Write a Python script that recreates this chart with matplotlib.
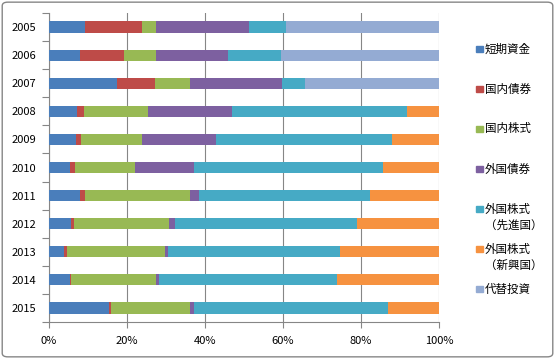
import numpy as np
import matplotlib
matplotlib.use("Agg")
import matplotlib.pyplot as plt
from matplotlib.patches import FancyBboxPatch, Rectangle

plt.rcParams['font.family'] = ['Noto Sans CJK JP', 'DejaVu Sans']

years = ['2005', '2006', '2007', '2008', '2009', '2010',
         '2011', '2012', '2013', '2014', '2015']
labels = ['短期資金', '国内債券', '国内株式', '外国債券',
          '外国株式\n（先進国）', '外国株式\n（新興国）', '代替投資']
colors = ['#4A7EBB', '#BE4B48', '#98B954', '#7D60A0',
          '#46AAC5', '#F69240', '#94ABD3']

# percentages per year, in legend order
short_term = [9.3, 8.0, 17.6, 7.3, 7.1, 5.5, 8.0, 5.7, 3.9, 5.5, 15.4]
dom_bond = [14.6, 11.3, 9.6, 1.8, 1.2, 1.3, 1.3, 0.8, 0.8, 0.3, 0.5]
dom_stock = [3.6, 8.2, 9.0, 16.4, 15.6, 15.4, 26.9, 24.3, 25.1, 21.8, 20.2]
for_bond = [23.7, 18.4, 23.5, 21.5, 18.9, 15.1, 2.3, 1.5, 0.8, 0.8, 1.0]
for_stock_dev = [9.6, 13.6, 5.9, 44.8, 45.1, 48.4, 43.8, 46.6, 44.0, 45.6, 49.7]
for_stock_em = [0, 0, 0, 8.3, 12.1, 14.4, 17.7, 21.1, 25.4, 26.2, 13.1]
alternative = [39.2, 40.5, 34.4, 0, 0, 0, 0, 0, 0, 0, 0]

series = [short_term, dom_bond, dom_stock, for_bond,
          for_stock_dev, for_stock_em, alternative]

fig = plt.figure(figsize=(5.55, 3.59), dpi=100)
ax = fig.add_axes([48.7 / 555, 37 / 359, 390.6 / 555, 309 / 359])

data = np.array(series, dtype=float)
data = data / data.sum(axis=0) * 100
ypos = np.arange(len(years))
left = np.zeros(len(years))
for vals, c in zip(data, colors):
    ax.barh(ypos, vals, left=left, height=0.4, color=c, zorder=3)
    left += vals

grey = '#868686'
ax.set_xlim(0, 100)
ax.set_ylim(len(years) - 0.5, -0.5)
ax.set_xticks(np.arange(0, 101, 20))
ax.set_xticklabels([f'{v}%' for v in range(0, 101, 20)])
ax.set_yticks(ypos)
ax.set_yticklabels(years)
ax.set_yticks(np.arange(-0.5, len(years)), minor=True)
ax.tick_params(axis='y', which='major', length=0, pad=9, labelsize=8)
ax.tick_params(axis='y', which='minor', length=5, color=grey, width=0.8)
ax.tick_params(axis='x', length=4, color=grey, width=0.8, labelsize=8, pad=6)
ax.grid(axis='x', color=grey, lw=0.8, zorder=0)
for s in ['top', 'right']:
    ax.spines[s].set_visible(False)
for s in ['left', 'bottom']:
    ax.spines[s].set_color(grey)
    ax.spines[s].set_linewidth(0.8)

# legend drawn by hand: square marker beside first text line
for i, (lab, c) in enumerate(zip(labels, colors)):
    ytop = 49 + 40 * i
    yf = 1 - ytop / 359
    fig.patches.append(Rectangle((476 / 555, yf - 3.2 / 359), 6.5 / 555, 6.5 / 359,
                                 transform=fig.transFigure, color=c))
    fig.text(485 / 555, 1 - (ytop - 6.5) / 359, lab, fontsize=8.3,
             va='top', ha='left', linespacing=1.35)

fig.patches.append(FancyBboxPatch((0.004, 0.006), 0.992, 0.988,
                                  boxstyle='round,pad=0,rounding_size=0.01',
                                  transform=fig.transFigure, fill=False,
                                  ec=grey, lw=1))

fig.savefig('out.png', dpi=100)
